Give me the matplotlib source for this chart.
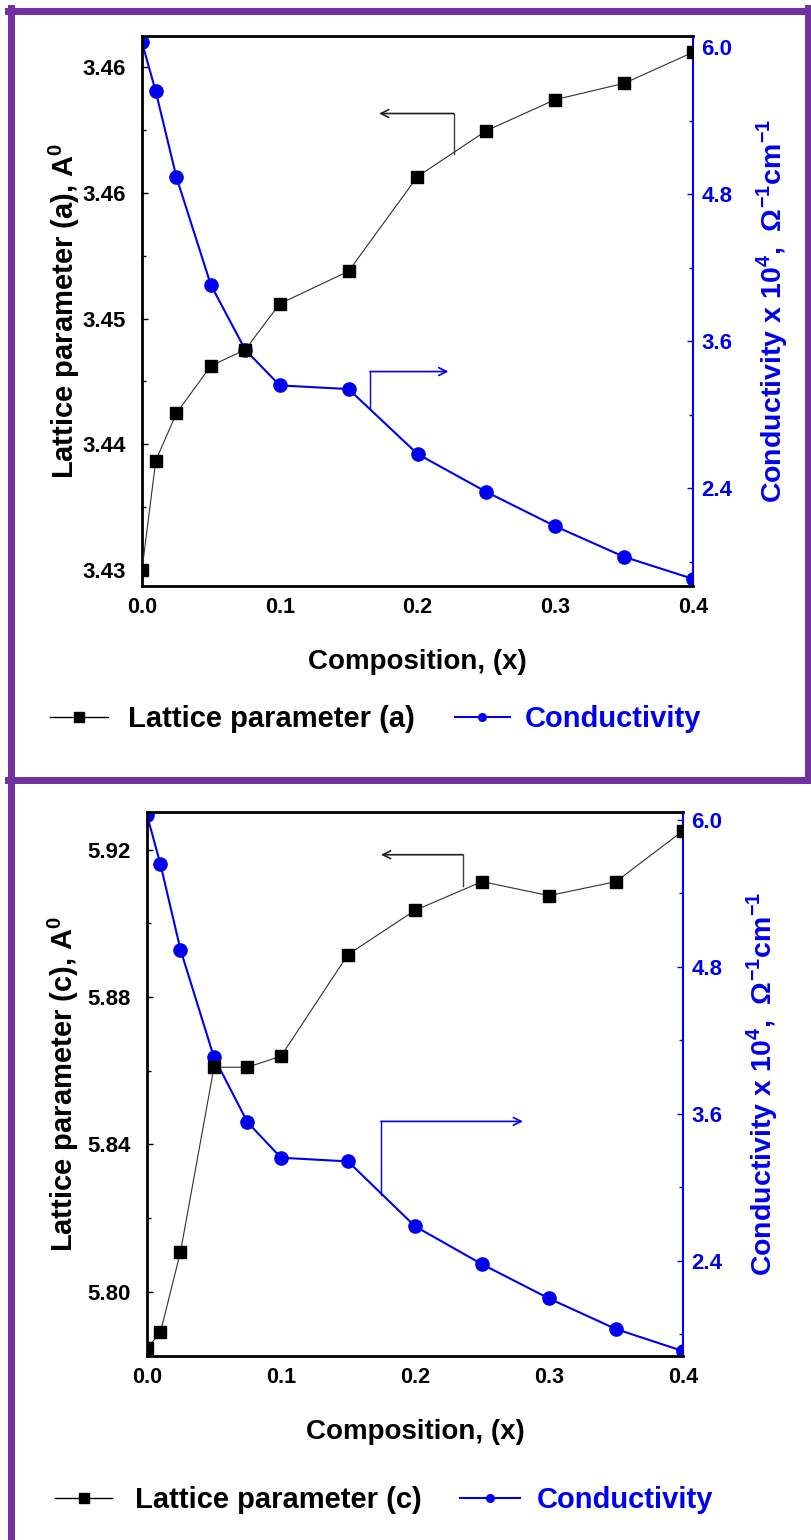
import matplotlib
matplotlib.use("Agg")
import matplotlib.pyplot as plt
from matplotlib.lines import Line2D
from matplotlib.ticker import FixedLocator, FixedFormatter, MultipleLocator

plt.rcParams['font.family'] = ['Liberation Sans', 'DejaVu Sans']
plt.rcParams['font.weight'] = 'bold'
plt.rcParams['mathtext.fontset'] = 'custom'
plt.rcParams['mathtext.rm'] = 'Liberation Sans:bold'
plt.rcParams['mathtext.bf'] = 'Liberation Sans:bold'

# ---------------- data ----------------
composition = [0.0, 0.01, 0.025, 0.05, 0.075, 0.1, 0.15, 0.2, 0.25, 0.3, 0.35, 0.4]
lattice_a = [3.4300, 3.4374, 3.4406, 3.4438, 3.4449, 3.4480, 3.4502, 3.4566,
             3.4597, 3.4618, 3.4629, 3.4650]
lattice_c = [5.7846, 5.7889, 5.8108, 5.8609, 5.8609, 5.8639, 5.8915, 5.9035,
             5.9113, 5.9075, 5.9113, 5.9251]
conductivity = [6.04, 5.64, 4.94, 4.06, 3.53, 3.24, 3.21, 2.68, 2.37, 2.09, 1.84, 1.66]

a_ticks = [3.430, 3.4385, 3.447, 3.4555, 3.464]
a_ticklabels = ["3.43", "3.44", "3.45", "3.46", "3.46"]
c_ticks = [5.80, 5.84, 5.88, 5.92]
c_ticklabels = ["5.80", "5.84", "5.88", "5.92"]
x_ticks = [0.0, 0.1, 0.2, 0.3, 0.4]
x_ticklabels = ["0.0", "0.1", "0.2", "0.3", "0.4"]
cond_ticks = [2.4, 3.6, 4.8, 6.0]
cond_ticklabels = ["2.4", "3.6", "4.8", "6.0"]

BLUE = '#0000F0'
PURPLE = '#7030A0'
W, H = 812, 1540
PX = 72 / 100  # points per pixel

fig = plt.figure(figsize=(W / 100, H / 100), dpi=100)


def add_legend(handle, label, x_px, y_px, hlen_px, pad_px, color):
    fs = 21
    em = fs / PX
    leg = fig.legend([handle], [label], loc='center left',
                     bbox_to_anchor=(x_px / W, 1 - y_px / H), frameon=False,
                     borderpad=0, borderaxespad=0,
                     handlelength=hlen_px / em, handletextpad=pad_px / em,
                     prop={'weight': 'bold', 'size': fs})
    leg.get_texts()[0].set_color(color)
    return leg


def make_panel(rect, lat, lat_ticks, lat_labels, lat_lim, lat_minor, cond_lim,
               ylabel, ylabel_pad, black_arrow, blue_arrow):
    ax = fig.add_axes(rect)
    ax2 = ax.twinx()
    ax.set_zorder(ax2.get_zorder() + 1)
    ax.patch.set_visible(False)

    ax.plot(composition, lat, color='#303030', lw=0.8, marker='s', ms=8.5,
            mfc='black', mec='black', zorder=3)
    ax2.plot(composition, conductivity, color=BLUE, lw=1.5, marker='o', ms=9.5,
             mfc=BLUE, mec=BLUE, zorder=3)

    ax.set_xlim(0, 0.4)
    ax.set_ylim(*lat_lim)
    ax2.set_ylim(*cond_lim)

    ax.xaxis.set_major_locator(FixedLocator(x_ticks))
    ax.xaxis.set_major_formatter(FixedFormatter(x_ticklabels))
    ax.yaxis.set_major_locator(FixedLocator(lat_ticks))
    ax.yaxis.set_major_formatter(FixedFormatter(lat_labels))
    ax.yaxis.set_minor_locator(FixedLocator(lat_minor))
    ax2.yaxis.set_major_locator(FixedLocator(cond_ticks))
    ax2.yaxis.set_major_formatter(FixedFormatter(cond_ticklabels))
    ax2.yaxis.set_minor_locator(MultipleLocator(0.6))

    ax.tick_params(axis='x', length=0, labelsize=15.5, pad=8)
    ax.tick_params(axis='y', which='major', direction='in', length=4, width=1,
                   labelsize=16, pad=12)
    ax.tick_params(axis='y', which='minor', direction='in', length=3, width=1)
    ax2.tick_params(axis='y', which='major', direction='in', length=4, width=1,
                    colors=BLUE, labelsize=16, pad=6)
    ax2.tick_params(axis='y', which='minor', direction='in', length=3, width=1,
                    colors=BLUE)

    for s in ['top', 'bottom', 'left']:
        ax.spines[s].set_linewidth(2)
        ax.spines[s].set_color('black')
    ax.spines['right'].set_visible(False)
    for s in ['top', 'bottom', 'left']:
        ax2.spines[s].set_visible(False)
    ax2.spines['right'].set_color(BLUE)
    ax2.spines['right'].set_linewidth(1.5)

    ax.set_xlabel('Composition, (x)', fontsize=20, fontweight='bold', labelpad=22)
    ax.set_ylabel(ylabel, fontsize=21, fontweight='bold', labelpad=ylabel_pad)
    ax2.set_ylabel(r'Conductivity x 10$^{4}$,  $\Omega^{-1}$cm$^{-1}$',
                   fontsize=20.5, fontweight='bold', color=BLUE, labelpad=16)

    # annotation arrows
    (bx0, by0), (bx1, by1), bytail = black_arrow
    ax.plot([bx0, bx0], [by0, bytail], color='#404040', lw=1, zorder=2)
    ax.annotate('', xy=(bx1, by1), xytext=(bx0, by0),
                arrowprops=dict(arrowstyle='->', color='#202020', lw=1.2,
                                shrinkA=0, shrinkB=0, mutation_scale=14))
    (ux0, uy0), (ux1, uy1), uytail = blue_arrow
    ax2.plot([ux0, ux0], [uy0, uytail], color=BLUE, lw=1, zorder=2)
    ax2.annotate('', xy=(ux1, uy1), xytext=(ux0, uy0),
                 arrowprops=dict(arrowstyle='->', color=BLUE, lw=1.2,
                                 shrinkA=0, shrinkB=0, mutation_scale=14))
    return ax, ax2


def handles():
    h1 = Line2D([], [], color='black', lw=1, marker='s', ms=6.5, mfc='black', mec='black')
    h2 = Line2D([], [], color=BLUE, lw=1.5, marker='o', ms=5.5, mfc=BLUE, mec=BLUE)
    return h1, h2


# top panel
make_panel([142 / W, 1 - 586 / H, 551 / W, 550 / H], lattice_a, a_ticks, a_ticklabels,
           (3.42892, 3.46610), [3.43425, 3.44275, 3.45125, 3.45975], (1.602, 6.093),
           r'Lattice parameter (a), A$^{0}$', 0,
           ((0.2265, 3.46086), (0.1721, 3.46086), 3.45812),
           ((0.1655, 3.353), (0.2224, 3.353), 3.053))
h1, h2 = handles()
add_legend(h1, 'Lattice parameter (a)', 50, 719, 58, 20, 'black')
add_legend(h2, 'Conductivity', 455, 719, 55, 15, BLUE)

# bottom panel
make_panel([147 / W, 1 - 1356 / H, 536 / W, 544 / H], lattice_c, c_ticks, c_ticklabels,
           (5.7825, 5.9302), [5.82, 5.86, 5.90], (1.62, 6.065),
           r'Lattice parameter (c), A$^{0}$', 4,
           ((0.2358, 5.9186), (0.1746, 5.9186), 5.9100),
           ((0.1746, 3.537), (0.2806, 3.537), 2.935))
h1, h2 = handles()
add_legend(h1, 'Lattice parameter (c)', 55, 1500, 57, 23, 'black')
add_legend(h2, 'Conductivity', 460, 1500, 60, 17, BLUE)


# purple frame
def hline(y, x0, x1, lw):
    fig.add_artist(Line2D([x0 / W, x1 / W], [1 - y / H, 1 - y / H], color=PURPLE, lw=lw,
                          transform=fig.transFigure))


def vline(x, y0, y1, lw):
    fig.add_artist(Line2D([x / W, x / W], [1 - y0 / H, 1 - y1 / H], color=PURPLE, lw=lw,
                          transform=fig.transFigure))


hline(11, 8, 812, 5)
hline(780, 8, 812, 5)
vline(11, 8, 1540, 5)
vline(808, 8, 780, 5)

fig.savefig('out.png', dpi=100)
